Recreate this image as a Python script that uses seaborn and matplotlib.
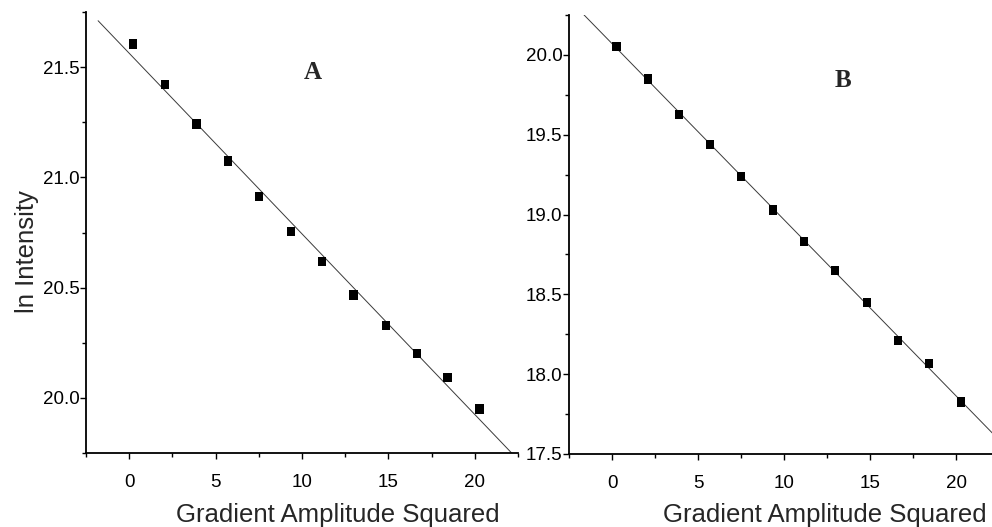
import numpy as np
import pandas as pd
import matplotlib
matplotlib.use("Agg")
import matplotlib.pyplot as plt
import seaborn as sns
from matplotlib.ticker import MultipleLocator, FormatStrFormatter

# ---- data ----
grad_sq_a = [0.23, 2.08, 3.89, 5.72, 7.53, 9.38, 11.15, 12.98, 14.85, 16.65, 18.42, 20.27]
ln_int_a = [21.605, 21.420, 21.242, 21.074, 20.914, 20.754, 20.619, 20.467, 20.327, 20.203, 20.092, 19.950]

grad_sq_b = [0.26, 2.08, 3.90, 5.70, 7.50, 9.36, 11.13, 12.95, 14.81, 16.63, 18.40, 20.26]
ln_int_b = [20.052, 19.849, 19.629, 19.441, 19.238, 19.028, 18.830, 18.651, 18.448, 18.209, 18.067, 17.826]

panel_labels = ["A", "B"]
x_label = "Gradient Amplitude Squared"
y_label = "ln Intensity"

sns.set_style("ticks")
plt.rcParams["font.family"] = ["Liberation Sans", "DejaVu Sans"]

fig = plt.figure(figsize=(9.92, 5.27), dpi=100)
W, H = 992.0, 527.0

def px_axes(x0, y_top, x1, y_bot):
    return [x0 / W, (H - y_bot) / H, (x1 - x0) / W, (y_bot - y_top) / H]

axA = fig.add_axes(px_axes(86, 12, 518, 453))
axB = fig.add_axes(px_axes(569, 15, 992, 454))

sq_marker = [(-0.45, -0.5), (0.45, -0.5), (0.45, 0.5), (-0.45, 0.5)]

panels = [
    dict(ax=axA, x=grad_sq_a, y=ln_int_a, xlim=(-2.5, 22.5), ylim=(19.75, 21.75),
         fit_start=-1.8, label=panel_labels[0], lab_xy=(10.65, 21.476),
         xlab_pos=0.583, ylab=True),
    dict(ax=axB, x=grad_sq_b, y=ln_int_b, xlim=(-2.5, 22.07), ylim=(17.5, 20.25),
         fit_start=-2.5, label=panel_labels[1], lab_xy=(13.41, 19.837),
         xlab_pos=0.605, ylab=False),
]

for p in panels:
    ax = p["ax"]
    df = pd.DataFrame({"x": p["x"], "y": p["y"]})
    coef = np.polyfit(df["x"], df["y"], 1)
    fx = np.array([p["fit_start"], p["xlim"][1] + 1])
    fdf = pd.DataFrame({"x": fx, "y": np.polyval(coef, fx)})
    sns.lineplot(data=fdf, x="x", y="y", ax=ax, color="#3a3a3a", linewidth=0.7)
    sns.scatterplot(data=df, x="x", y="y", ax=ax, marker=sq_marker, s=44,
                    color="black", edgecolor="none", linewidth=0, zorder=3)
    ax.set_xlim(*p["xlim"])
    ax.set_ylim(*p["ylim"])
    ax.xaxis.set_major_locator(MultipleLocator(5))
    ax.xaxis.set_minor_locator(MultipleLocator(2.5))
    ax.yaxis.set_major_locator(MultipleLocator(0.5))
    ax.yaxis.set_minor_locator(MultipleLocator(0.25))
    ax.yaxis.set_major_formatter(FormatStrFormatter("%.1f"))
    ax.xaxis.set_major_formatter(FormatStrFormatter("%d"))
    for s in ["top", "right"]:
        ax.spines[s].set_visible(False)
    for s in ["left", "bottom"]:
        ax.spines[s].set_linewidth(1.3)
        ax.spines[s].set_color("black")
    ax.tick_params(axis="both", which="major", direction="out", length=4.5, width=1,
                   color="black", labelsize=13.5, labelcolor="black")
    ax.tick_params(axis="both", which="minor", direction="out", length=3, width=1,
                   color="black")
    ax.tick_params(axis="y", which="major", pad=0.2)
    ax.tick_params(axis="x", which="major", pad=10.5)
    ax.set_xlabel(x_label, fontsize=18.5, va="baseline")
    ax.xaxis.set_label_coords(p["xlab_pos"], -0.156)
    if p["ylab"]:
        ax.set_ylabel(y_label, fontsize=18.5, va="center")
        ax.yaxis.set_label_coords(-0.137, 0.456)
    else:
        ax.set_ylabel("")
    ax.text(p["lab_xy"][0], p["lab_xy"][1], p["label"], ha="center", va="center",
            fontsize=18, fontweight="bold", family="Liberation Serif")
    ax.set_facecolor("white")

fig.savefig("out.png", dpi=100, facecolor="white")
